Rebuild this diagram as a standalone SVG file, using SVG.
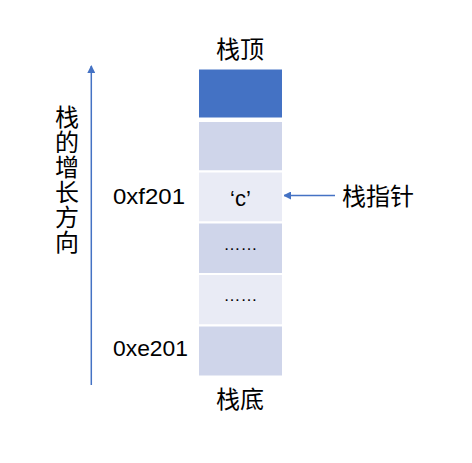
<svg xmlns="http://www.w3.org/2000/svg" width="472" height="463" viewBox="0 0 472 463">
<style>
.t{font-family:"Noto Sans CJK SC","Liberation Sans",sans-serif;font-size:24px;fill:#000}
.v{font-family:"Noto Sans CJK SC","Liberation Sans",sans-serif;font-size:24px;fill:#000;writing-mode:vertical-rl;letter-spacing:1px}
.n{font-family:"Liberation Sans",sans-serif;font-size:22px;fill:#000}
.d{font-family:"Liberation Sans",sans-serif;font-size:17px;fill:#000}
.cell{stroke:#fff;stroke-width:2}
.a{fill:#CFD5EA}
.b{fill:#E9EBF5}
.line{stroke:#4472C4;stroke-width:1.5;fill:none}
</style>
<defs>
<marker id="ah" markerWidth="8" markerHeight="8" refX="7" refY="4" orient="auto" markerUnits="userSpaceOnUse">
<path d="M0,0 L8,4 L0,8 Z" fill="#4472C4"/>
</marker>
</defs>
<rect width="472" height="463" fill="#fff"/>
<g id="connectors">
<line class="line" x1="91.3" y1="385" x2="91.3" y2="66" marker-end="url(#ah)"/>
<line class="line" x1="335" y1="195.5" x2="284" y2="195.5" marker-end="url(#ah)"/>
</g>
<g id="cell-top"><rect class="cell" x="198" y="68.5" width="85" height="50" fill="#4472C4"/></g>
<g id="cell-2"><rect class="cell a" x="198" y="121" width="85" height="50.5"/></g>
<g id="cell-3"><rect class="cell b" x="198" y="171.5" width="85" height="51"/><text class="n" x="240.5" y="206" text-anchor="middle">‘c’</text></g>
<g id="cell-4"><rect class="cell a" x="198" y="222.5" width="85" height="51.5"/><text class="d" x="240.5" y="249.5" text-anchor="middle">……</text></g>
<g id="cell-5"><rect class="cell b" x="198" y="274" width="85" height="51.5"/><text class="d" x="240.5" y="301" text-anchor="middle">……</text></g>
<g id="cell-6"><rect class="cell a" x="198" y="325.5" width="85" height="51"/></g>
<g id="label-top"><text class="t" x="240" y="58" text-anchor="middle">栈顶</text></g>
<g id="label-bottom"><text class="t" x="240" y="408" text-anchor="middle">栈底</text></g>
<g id="label-pointer"><text class="t" x="342" y="205">栈指针</text></g>
<g id="addr-f201"><text class="n" x="113" y="204" textLength="72" lengthAdjust="spacingAndGlyphs">0xf201</text></g>
<g id="addr-e201"><text class="n" x="113" y="356" textLength="75" lengthAdjust="spacingAndGlyphs">0xe201</text></g>
<g id="growth"><text class="v" x="67" y="105">栈的增长方向</text></g>
</svg>
